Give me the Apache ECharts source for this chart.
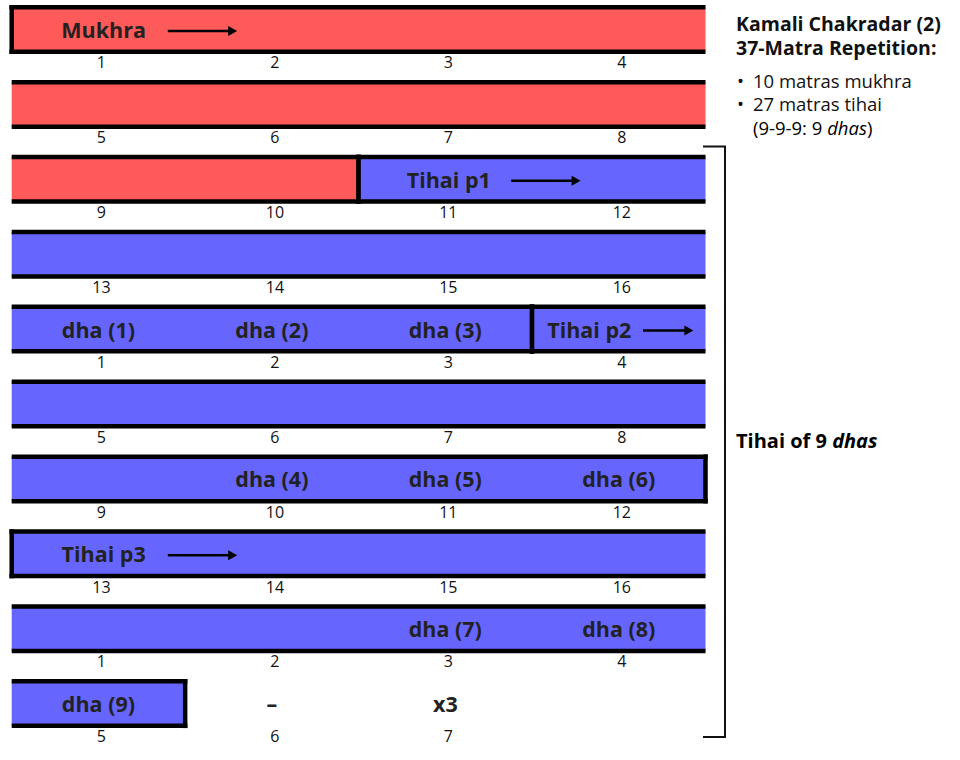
<!DOCTYPE html>
<html><head><meta charset="utf-8">
<script src="https://cdn.jsdelivr.net/npm/echarts@6/dist/echarts.min.js"></script>
<style>html,body{margin:0;padding:0;background:#fff}#c{width:960px;height:760px}</style>
</head><body><div id="c"></div>
<script>
// ---------------- data ----------------
const rowTickLabels = [
  ['1','2','3','4'], ['5','6','7','8'], ['9','10','11','12'], ['13','14','15','16'],
  ['1','2','3','4'], ['5','6','7','8'], ['9','10','11','12'], ['13','14','15','16'],
  ['1','2','3','4'], ['5','6','7']
];
const beatsPerRow = 4;
const segmentNames   = ['Mukhra', 'Tihai p1', 'Tihai p2', 'Tihai p3'];
const segmentStarts  = [0, 10, 19, 28];      // matra index in the 37-matra sequence
const segmentLengths = [10, 9, 9, 9];
const segmentKinds   = ['mukhra', 'tihai', 'tihai', 'tihai'];
const dhaLabels = ['dha (1)','dha (2)','dha (3)','dha (4)','dha (5)','dha (6)','dha (7)','dha (8)','dha (9)'];
const dhaMatras = [16, 17, 18, 25, 26, 27, 34, 35, 36];
const endMarks = ['–', 'x3'];
const endMarkMatras = [37, 38];
const infoTitle = ['Kamali Chakradar (2)', '37-Matra Repetition:'];
const infoBullets = ['10 matras mukhra', '27 matras tihai'];
const bracketLabel = 'Tihai of 9';

// ---------------- layout / style ----------------
const FONT = '"Open Sans", "Noto Sans", sans-serif';
const kindColor = { mukhra: '#ff5a5a', tihai: '#6666ff' };
const gridLeft = 11.7, gridWidth = 693.8;
const rowTop0 = 7.25, rowPitch = 74.9, rowHeight = 44.5;
const borderW = 4.5;
const labelFont = 'bold 21.5px ' + FONT;
// title placement relative to segment start (in matras): text centre, arrow from, arrow to
const titleLayout = [[0.53, 0.90, 1.30], [0.52, 0.88, 1.28], [0.33, 0.64, 0.93], [0.53, 0.90, 1.30]];

const nRows = rowTickLabels.length;
const rowPieces = Array.from({length: nRows}, () => []);
segmentStarts.forEach((start, s) => {
  const end = start + segmentLengths[s];
  for (let r = Math.floor(start / beatsPerRow); r <= Math.floor((end - 1) / beatsPerRow); r++) {
    const base = r * beatsPerRow;
    rowPieces[r].push([
      Math.max(start, base) - base, Math.min(end, base + beatsPerRow) - base, s,
      start >= base ? 1 : 0, end <= base + beatsPerRow ? 1 : 0
    ]);
  }
});
const rowTitles = Array.from({length: nRows}, () => []);
segmentStarts.forEach((start, s) => {
  const r = Math.floor(start / beatsPerRow), c = start - r * beatsPerRow;
  const L = titleLayout[s];
  rowTitles[r].push([c + L[0], c + L[1], c + L[2], s]);
});
const rowTexts = Array.from({length: nRows}, () => []);
dhaMatras.forEach((m, i) => {
  const r = Math.floor(m / beatsPerRow);
  rowTexts[r].push([m - r * beatsPerRow + 0.5, 0.5, dhaLabels[i]]);
});
endMarkMatras.forEach((m, i) => {
  const r = Math.floor(m / beatsPerRow);
  rowTexts[r].push([m - r * beatsPerRow + 0.5, 0.5, endMarks[i]]);
});

const grid = [], xAxis = [], yAxis = [], series = [];
for (let i = 0; i < nRows; i++) {
  grid.push({ left: gridLeft, width: gridWidth, top: rowTop0 + i * rowPitch, height: rowHeight, outerBoundsMode: 'none', containLabel: false });
  xAxis.push({
    gridIndex: i, type: 'value', min: 0, max: beatsPerRow, interval: 0.5,
    axisLine: { show: false }, axisTick: { show: false }, splitLine: { show: false },
    axisLabel: {
      margin: 2.5, fontSize: 16, color: '#111', fontFamily: FONT, padding: [0, 0, 0, 6],
      showMinLabel: true, showMaxLabel: true,
      formatter: (v) => { const k = Math.round(v * 2); return k % 2 === 1 ? (rowTickLabels[i][(k - 1) / 2] || '') : ''; }
    }
  });
  yAxis.push({ gridIndex: i, type: 'value', min: 0, max: 1, show: false });
  series.push({
    type: 'custom', xAxisIndex: i, yAxisIndex: i, z: 2, silent: true,
    data: rowPieces[i],
    renderItem: (params, api) => {
      const p0 = api.coord([api.value(0), 1]);
      const p1 = api.coord([api.value(1), 0]);
      const s = api.value(2), isS = api.value(3), isE = api.value(4);
      const h = borderW / 2;
      const xa = p0[0] - (isS ? h : 0), xb = p1[0] + (isE ? h : 0);
      const ls = { stroke: '#000', lineWidth: borderW };
      const ch = [
        { type: 'rect', shape: { x: p0[0], y: p0[1], width: p1[0] - p0[0], height: p1[1] - p0[1] }, style: { fill: kindColor[segmentKinds[s]] } },
        { type: 'line', shape: { x1: xa, y1: p0[1], x2: xb, y2: p0[1] }, style: ls },
        { type: 'line', shape: { x1: xa, y1: p1[1], x2: xb, y2: p1[1] }, style: ls }
      ];
      if (isS) ch.push({ type: 'line', shape: { x1: p0[0], y1: p0[1] - h, x2: p0[0], y2: p1[1] + h }, style: ls });
      if (isE) ch.push({ type: 'line', shape: { x1: p1[0], y1: p0[1] - h, x2: p1[0], y2: p1[1] + h }, style: ls });
      return { type: 'group', children: ch };
    }
  });
  series.push({
    type: 'custom', xAxisIndex: i, yAxisIndex: i, z: 5, silent: true,
    data: rowTitles[i],
    renderItem: (params, api) => {
      const yc = api.coord([0, 0.5])[1];
      const tx = api.coord([api.value(0), 0.5])[0];
      const a0 = api.coord([api.value(1), 0.5])[0];
      const a1 = api.coord([api.value(2), 0.5])[0];
      const ya = yc + 1.5;
      return { type: 'group', children: [
        { type: 'text', style: { text: segmentNames[api.value(3)], x: tx, y: yc, textAlign: 'center', textVerticalAlign: 'middle', font: labelFont, fill: '#222' } },
        { type: 'line', shape: { x1: a0, y1: ya, x2: a1 - 7, y2: ya }, style: { stroke: '#000', lineWidth: 2.5 } },
        { type: 'polygon', shape: { points: [[a1, ya], [a1 - 9, ya - 5], [a1 - 9, ya + 5]] }, style: { fill: '#000' } }
      ] };
    }
  });
  series.push({
    type: 'custom', xAxisIndex: i, yAxisIndex: i, z: 5, silent: true,
    data: rowTexts[i],
    renderItem: (params, api) => {
      const p = api.coord([api.value(0), api.value(1)]);
      return { type: 'text', style: { text: rowTexts[i][params.dataIndex][2], x: p[0], y: p[1], textAlign: 'center', textVerticalAlign: 'middle', font: labelFont, fill: '#222' } };
    }
  });
}

const rich = {
  n: { fontSize: 18.5, fontFamily: 'Open Sans', color: '#111' },
  i: { fontSize: 18.5, fontFamily: 'Open Sans', fontStyle: 'italic', color: '#111' },
  b: { fontSize: 20, fontFamily: 'Open Sans', fontWeight: 'bold', color: '#111' },
  bi: { fontSize: 20, fontFamily: 'Open Sans', fontWeight: 'bold', fontStyle: 'italic', color: '#111' }
};
const graphic = [
  { type: 'text', left: 736, top: 13, style: { text: infoTitle[0], font: 'bold 19.5px ' + FONT, fill: '#111' } },
  { type: 'text', left: 736, top: 37.5, style: { text: infoTitle[1], font: 'bold 19.5px ' + FONT, fill: '#111' } },
  { type: 'text', left: 737, top: 70.5, style: { text: '•', font: '18.5px ' + FONT, fill: '#111' } },
  { type: 'text', left: 753, top: 70.5, style: { text: infoBullets[0], font: '18.5px ' + FONT, fill: '#111' } },
  { type: 'text', left: 737, top: 94, style: { text: '•', font: '18.5px ' + FONT, fill: '#111' } },
  { type: 'text', left: 753, top: 94, style: { text: infoBullets[1], font: '18.5px ' + FONT, fill: '#111' } },
  { type: 'text', left: 753, top: 117.5, style: { text: '{n|(9-9-9: 9 }{i|dhas}{n|)}', rich: rich } },
  { type: 'text', left: 736, top: 430, style: { text: '{b|' + bracketLabel + ' }{bi|dhas}', rich: rich } },
  { type: 'polyline', shape: { points: [[703, 146.5], [725, 146.5], [725, 737], [703, 737]] }, style: { stroke: '#111', lineWidth: 2, fill: null } }
];

const chart = echarts.init(document.getElementById('c'), null, { renderer: 'svg' });
chart.setOption({ animation: false, backgroundColor: '#fff', grid, xAxis, yAxis, series, graphic });
</script>
</body></html>
